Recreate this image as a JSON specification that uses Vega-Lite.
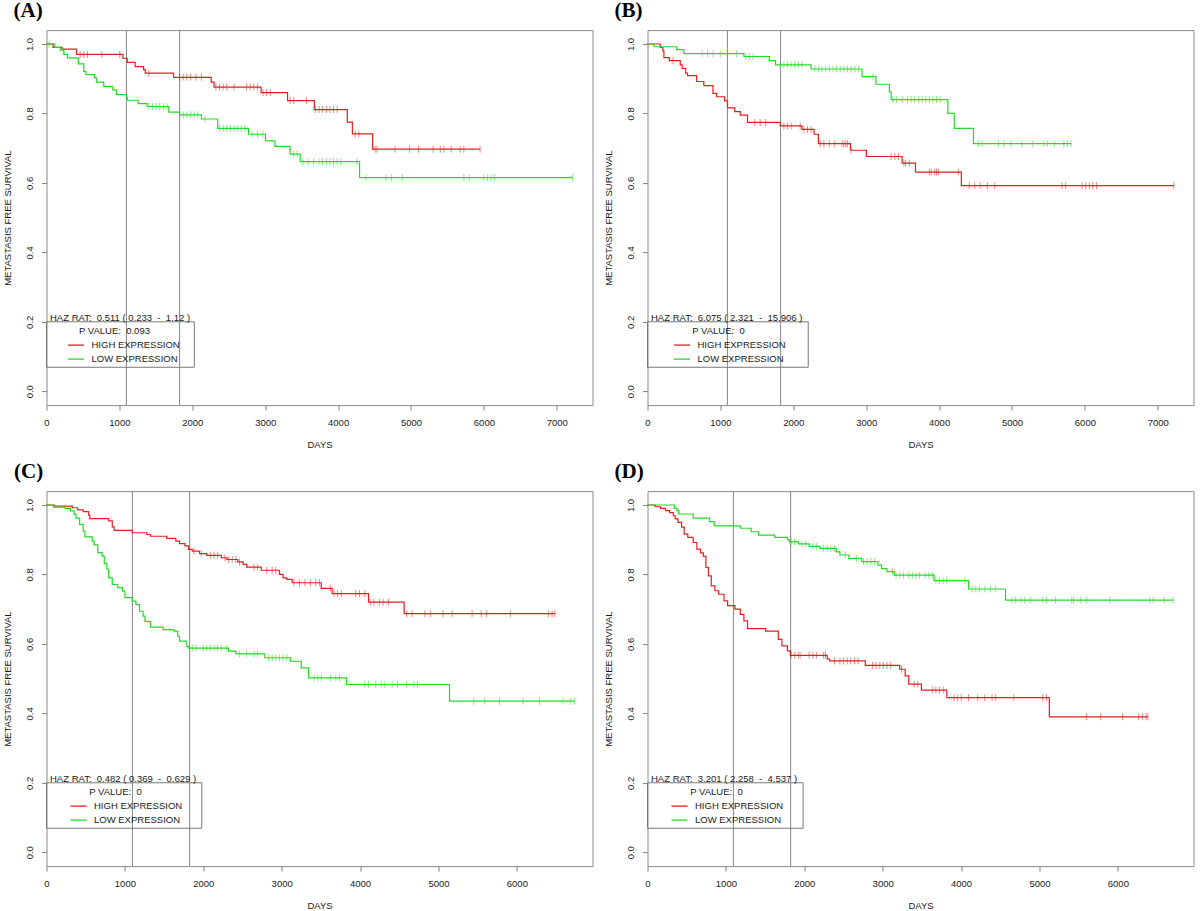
{
"$schema": "https://vega.github.io/schema/vega-lite/v6.json",
"background": "white",
"autosize": {"type": "none"},
"padding": {"left": 46.5, "top": 30.1, "right": 1153.5, "bottom": 880.9},
"columns": 2,
"bounds": "flush",
"spacing": {"row": 86, "column": 55},
"resolve": {"scale": {"x": "independent", "y": "independent", "color": "independent"}, "axis": {"x": "independent", "y": "independent"}, "legend": {"color": "independent"}},
"config": {
 "font": "Liberation Sans",
 "view": {"stroke": "#8a8a8a", "strokeWidth": 1},
 "axis": {"grid": false, "domain": false, "tickColor": "#808080", "tickSize": 5, "tickWidth": 1, "labelFont": "Liberation Sans", "labelFontSize": 9.5, "labelColor": "#1a1a1a", "titleFont": "Liberation Sans", "titleFontSize": 9.5, "titleFontWeight": "normal", "titleColor": "#1a1a1a", "labelFlush": false, "labelOverlap": false},
 "axisX": {"labelPadding": 7, "titlePadding": 13, "format": "d"},
 "axisY": {"labelAngle": -90, "labelAlign": "center", "labelBaseline": "middle", "labelPadding": 12, "titlePadding": 12},
 "legend": {"orient": "none", "legendX": 0, "legendY": 292.5, "padding": 3, "symbolType": "stroke", "symbolSize": 256, "symbolStrokeWidth": 1.3, "symbolOpacity": 1, "symbolOffset": 17.5, "labelOffset": 6.5, "rowPadding": -8, "titlePadding": 1, "labelFont": "Liberation Sans", "labelFontSize": 9.5, "labelColor": "#1a1a1a", "titleFont": "Liberation Sans", "titleFontSize": 9.5, "titleFontWeight": "normal", "titleColor": "#1a1a1a", "titleAnchor": "middle", "titleAlign": "center", "titleLimit": 400, "labelLimit": 300},
 "title": {"font": "Liberation Serif", "fontSize": 21, "fontWeight": "bold", "color": "black", "anchor": "start", "frame": "group", "baseline": "alphabetic"}
},
"datasets": {
 "refs": [{"t": 1096}, {"t": 1826}],
 "notes": [
  {"p": "A", "label": "HAZ RAT:\u00a0\u00a00.511 ( 0.233\u00a0\u00a0-\u00a0\u00a01.12 )"},
  {"p": "B", "label": "HAZ RAT:\u00a0\u00a06.075 ( 2.321\u00a0\u00a0-\u00a0\u00a015.906 )"},
  {"p": "C", "label": "HAZ RAT:\u00a0\u00a00.482 ( 0.369\u00a0\u00a0-\u00a0\u00a00.629 )"},
  {"p": "D", "label": "HAZ RAT:\u00a0\u00a03.201 ( 2.258\u00a0\u00a0-\u00a0\u00a04.537 )"}
 ],
 "A": [
{"g":"HIGH EXPRESSION","t":0,"s":1,"c":0},{"g":"HIGH EXPRESSION","t":89,"s":0.99,"c":0},{"g":"HIGH EXPRESSION","t":213,"s":0.985,"c":0},{"g":"HIGH EXPRESSION","t":412,"s":0.97,"c":0},{"g":"HIGH EXPRESSION","t":462,"s":0.97,"c":1},{"g":"HIGH EXPRESSION","t":511,"s":0.97,"c":1},{"g":"HIGH EXPRESSION","t":561,"s":0.97,"c":1},{"g":"HIGH EXPRESSION","t":760,"s":0.97,"c":1},{"g":"HIGH EXPRESSION","t":1005,"s":0.97,"c":1},{"g":"HIGH EXPRESSION","t":1048,"s":0.959,"c":0},{"g":"HIGH EXPRESSION","t":1107,"s":0.947,"c":0},{"g":"HIGH EXPRESSION","t":1216,"s":0.935,"c":0},{"g":"HIGH EXPRESSION","t":1331,"s":0.926,"c":0},{"g":"HIGH EXPRESSION","t":1355,"s":0.916,"c":0},{"g":"HIGH EXPRESSION","t":1404,"s":0.916,"c":1},{"g":"HIGH EXPRESSION","t":1743,"s":0.904,"c":0},{"g":"HIGH EXPRESSION","t":1827,"s":0.904,"c":1},{"g":"HIGH EXPRESSION","t":1877,"s":0.904,"c":1},{"g":"HIGH EXPRESSION","t":1926,"s":0.904,"c":1},{"g":"HIGH EXPRESSION","t":1976,"s":0.904,"c":1},{"g":"HIGH EXPRESSION","t":2051,"s":0.904,"c":1},{"g":"HIGH EXPRESSION","t":2125,"s":0.904,"c":1},{"g":"HIGH EXPRESSION","t":2259,"s":0.89,"c":0},{"g":"HIGH EXPRESSION","t":2299,"s":0.876,"c":0},{"g":"HIGH EXPRESSION","t":2324,"s":0.876,"c":1},{"g":"HIGH EXPRESSION","t":2373,"s":0.876,"c":1},{"g":"HIGH EXPRESSION","t":2423,"s":0.876,"c":1},{"g":"HIGH EXPRESSION","t":2473,"s":0.876,"c":1},{"g":"HIGH EXPRESSION","t":2572,"s":0.876,"c":1},{"g":"HIGH EXPRESSION","t":2746,"s":0.876,"c":1},{"g":"HIGH EXPRESSION","t":2795,"s":0.876,"c":1},{"g":"HIGH EXPRESSION","t":2845,"s":0.876,"c":1},{"g":"HIGH EXPRESSION","t":2895,"s":0.876,"c":1},{"g":"HIGH EXPRESSION","t":2944,"s":0.86,"c":0},{"g":"HIGH EXPRESSION","t":2969,"s":0.86,"c":1},{"g":"HIGH EXPRESSION","t":3019,"s":0.86,"c":1},{"g":"HIGH EXPRESSION","t":3069,"s":0.86,"c":1},{"g":"HIGH EXPRESSION","t":3307,"s":0.837,"c":0},{"g":"HIGH EXPRESSION","t":3342,"s":0.837,"c":1},{"g":"HIGH EXPRESSION","t":3391,"s":0.837,"c":1},{"g":"HIGH EXPRESSION","t":3565,"s":0.837,"c":1},{"g":"HIGH EXPRESSION","t":3674,"s":0.811,"c":0},{"g":"HIGH EXPRESSION","t":3689,"s":0.811,"c":1},{"g":"HIGH EXPRESSION","t":3739,"s":0.811,"c":1},{"g":"HIGH EXPRESSION","t":3788,"s":0.811,"c":1},{"g":"HIGH EXPRESSION","t":3838,"s":0.811,"c":1},{"g":"HIGH EXPRESSION","t":3888,"s":0.811,"c":1},{"g":"HIGH EXPRESSION","t":3937,"s":0.811,"c":1},{"g":"HIGH EXPRESSION","t":3987,"s":0.811,"c":1},{"g":"HIGH EXPRESSION","t":4126,"s":0.775,"c":0},{"g":"HIGH EXPRESSION","t":4196,"s":0.741,"c":0},{"g":"HIGH EXPRESSION","t":4235,"s":0.741,"c":1},{"g":"HIGH EXPRESSION","t":4285,"s":0.741,"c":1},{"g":"HIGH EXPRESSION","t":4474,"s":0.697,"c":0},{"g":"HIGH EXPRESSION","t":4508,"s":0.697,"c":1},{"g":"HIGH EXPRESSION","t":4533,"s":0.697,"c":1},{"g":"HIGH EXPRESSION","t":4781,"s":0.697,"c":1},{"g":"HIGH EXPRESSION","t":4980,"s":0.697,"c":1},{"g":"HIGH EXPRESSION","t":5104,"s":0.697,"c":1},{"g":"HIGH EXPRESSION","t":5303,"s":0.697,"c":1},{"g":"HIGH EXPRESSION","t":5402,"s":0.697,"c":1},{"g":"HIGH EXPRESSION","t":5452,"s":0.697,"c":1},{"g":"HIGH EXPRESSION","t":5551,"s":0.697,"c":1},{"g":"HIGH EXPRESSION","t":5675,"s":0.697,"c":1},{"g":"HIGH EXPRESSION","t":5725,"s":0.697,"c":1},{"g":"HIGH EXPRESSION","t":5948,"s":0.697,"c":1},
{"g":"LOW EXPRESSION","t":0,"s":1,"c":0},{"g":"LOW EXPRESSION","t":35,"s":1,"c":1},{"g":"LOW EXPRESSION","t":114,"s":0.99,"c":0},{"g":"LOW EXPRESSION","t":189,"s":0.982,"c":0},{"g":"LOW EXPRESSION","t":238,"s":0.97,"c":0},{"g":"LOW EXPRESSION","t":288,"s":0.96,"c":0},{"g":"LOW EXPRESSION","t":437,"s":0.943,"c":0},{"g":"LOW EXPRESSION","t":511,"s":0.921,"c":0},{"g":"LOW EXPRESSION","t":540,"s":0.912,"c":0},{"g":"LOW EXPRESSION","t":660,"s":0.902,"c":0},{"g":"LOW EXPRESSION","t":685,"s":0.89,"c":0},{"g":"LOW EXPRESSION","t":785,"s":0.878,"c":0},{"g":"LOW EXPRESSION","t":909,"s":0.868,"c":0},{"g":"LOW EXPRESSION","t":958,"s":0.854,"c":0},{"g":"LOW EXPRESSION","t":1097,"s":0.846,"c":0},{"g":"LOW EXPRESSION","t":1107,"s":0.838,"c":0},{"g":"LOW EXPRESSION","t":1256,"s":0.828,"c":0},{"g":"LOW EXPRESSION","t":1380,"s":0.82,"c":0},{"g":"LOW EXPRESSION","t":1405,"s":0.82,"c":1},{"g":"LOW EXPRESSION","t":1455,"s":0.82,"c":1},{"g":"LOW EXPRESSION","t":1504,"s":0.82,"c":1},{"g":"LOW EXPRESSION","t":1554,"s":0.82,"c":1},{"g":"LOW EXPRESSION","t":1604,"s":0.82,"c":1},{"g":"LOW EXPRESSION","t":1653,"s":0.82,"c":1},{"g":"LOW EXPRESSION","t":1678,"s":0.804,"c":0},{"g":"LOW EXPRESSION","t":1827,"s":0.796,"c":0},{"g":"LOW EXPRESSION","t":1877,"s":0.796,"c":1},{"g":"LOW EXPRESSION","t":1926,"s":0.796,"c":1},{"g":"LOW EXPRESSION","t":1976,"s":0.796,"c":1},{"g":"LOW EXPRESSION","t":2026,"s":0.796,"c":1},{"g":"LOW EXPRESSION","t":2075,"s":0.796,"c":1},{"g":"LOW EXPRESSION","t":2125,"s":0.784,"c":0},{"g":"LOW EXPRESSION","t":2175,"s":0.784,"c":1},{"g":"LOW EXPRESSION","t":2349,"s":0.757,"c":0},{"g":"LOW EXPRESSION","t":2373,"s":0.757,"c":1},{"g":"LOW EXPRESSION","t":2423,"s":0.757,"c":1},{"g":"LOW EXPRESSION","t":2473,"s":0.757,"c":1},{"g":"LOW EXPRESSION","t":2522,"s":0.757,"c":1},{"g":"LOW EXPRESSION","t":2572,"s":0.757,"c":1},{"g":"LOW EXPRESSION","t":2622,"s":0.757,"c":1},{"g":"LOW EXPRESSION","t":2671,"s":0.757,"c":1},{"g":"LOW EXPRESSION","t":2721,"s":0.757,"c":1},{"g":"LOW EXPRESSION","t":2771,"s":0.74,"c":0},{"g":"LOW EXPRESSION","t":2820,"s":0.74,"c":1},{"g":"LOW EXPRESSION","t":2895,"s":0.74,"c":1},{"g":"LOW EXPRESSION","t":2969,"s":0.74,"c":1},{"g":"LOW EXPRESSION","t":3004,"s":0.721,"c":0},{"g":"LOW EXPRESSION","t":3133,"s":0.705,"c":0},{"g":"LOW EXPRESSION","t":3342,"s":0.683,"c":0},{"g":"LOW EXPRESSION","t":3391,"s":0.683,"c":1},{"g":"LOW EXPRESSION","t":3441,"s":0.683,"c":1},{"g":"LOW EXPRESSION","t":3480,"s":0.661,"c":0},{"g":"LOW EXPRESSION","t":3515,"s":0.661,"c":1},{"g":"LOW EXPRESSION","t":3590,"s":0.661,"c":1},{"g":"LOW EXPRESSION","t":3664,"s":0.661,"c":1},{"g":"LOW EXPRESSION","t":3739,"s":0.661,"c":1},{"g":"LOW EXPRESSION","t":3788,"s":0.661,"c":1},{"g":"LOW EXPRESSION","t":3838,"s":0.661,"c":1},{"g":"LOW EXPRESSION","t":3888,"s":0.661,"c":1},{"g":"LOW EXPRESSION","t":3937,"s":0.661,"c":1},{"g":"LOW EXPRESSION","t":3987,"s":0.661,"c":1},{"g":"LOW EXPRESSION","t":4037,"s":0.661,"c":1},{"g":"LOW EXPRESSION","t":4260,"s":0.661,"c":1},{"g":"LOW EXPRESSION","t":4295,"s":0.615,"c":0},{"g":"LOW EXPRESSION","t":4384,"s":0.615,"c":1},{"g":"LOW EXPRESSION","t":4657,"s":0.615,"c":1},{"g":"LOW EXPRESSION","t":4732,"s":0.615,"c":1},{"g":"LOW EXPRESSION","t":4881,"s":0.615,"c":1},{"g":"LOW EXPRESSION","t":5725,"s":0.615,"c":1},{"g":"LOW EXPRESSION","t":5799,"s":0.615,"c":1},{"g":"LOW EXPRESSION","t":5998,"s":0.615,"c":1},{"g":"LOW EXPRESSION","t":6048,"s":0.615,"c":1},{"g":"LOW EXPRESSION","t":6097,"s":0.615,"c":1},{"g":"LOW EXPRESSION","t":6147,"s":0.615,"c":1},{"g":"LOW EXPRESSION","t":7215,"s":0.615,"c":1}
 ],
 "B": [
{"g":"HIGH EXPRESSION","t":0,"s":1,"c":0},{"g":"HIGH EXPRESSION","t":175,"s":0.99,"c":0},{"g":"HIGH EXPRESSION","t":210,"s":0.98,"c":0},{"g":"HIGH EXPRESSION","t":225,"s":0.961,"c":0},{"g":"HIGH EXPRESSION","t":300,"s":0.952,"c":0},{"g":"HIGH EXPRESSION","t":350,"s":0.952,"c":1},{"g":"HIGH EXPRESSION","t":449,"s":0.94,"c":0},{"g":"HIGH EXPRESSION","t":475,"s":0.93,"c":0},{"g":"HIGH EXPRESSION","t":524,"s":0.916,"c":0},{"g":"HIGH EXPRESSION","t":549,"s":0.909,"c":0},{"g":"HIGH EXPRESSION","t":674,"s":0.892,"c":0},{"g":"HIGH EXPRESSION","t":773,"s":0.88,"c":0},{"g":"HIGH EXPRESSION","t":898,"s":0.858,"c":0},{"g":"HIGH EXPRESSION","t":948,"s":0.848,"c":0},{"g":"HIGH EXPRESSION","t":1058,"s":0.836,"c":0},{"g":"HIGH EXPRESSION","t":1098,"s":0.816,"c":0},{"g":"HIGH EXPRESSION","t":1197,"s":0.805,"c":0},{"g":"HIGH EXPRESSION","t":1272,"s":0.795,"c":0},{"g":"HIGH EXPRESSION","t":1372,"s":0.774,"c":0},{"g":"HIGH EXPRESSION","t":1472,"s":0.774,"c":1},{"g":"HIGH EXPRESSION","t":1546,"s":0.774,"c":1},{"g":"HIGH EXPRESSION","t":1621,"s":0.774,"c":1},{"g":"HIGH EXPRESSION","t":1821,"s":0.764,"c":0},{"g":"HIGH EXPRESSION","t":1871,"s":0.764,"c":1},{"g":"HIGH EXPRESSION","t":1920,"s":0.764,"c":1},{"g":"HIGH EXPRESSION","t":1970,"s":0.764,"c":1},{"g":"HIGH EXPRESSION","t":2095,"s":0.764,"c":1},{"g":"HIGH EXPRESSION","t":2120,"s":0.754,"c":0},{"g":"HIGH EXPRESSION","t":2145,"s":0.754,"c":1},{"g":"HIGH EXPRESSION","t":2195,"s":0.754,"c":1},{"g":"HIGH EXPRESSION","t":2245,"s":0.754,"c":1},{"g":"HIGH EXPRESSION","t":2285,"s":0.74,"c":0},{"g":"HIGH EXPRESSION","t":2345,"s":0.713,"c":0},{"g":"HIGH EXPRESSION","t":2369,"s":0.713,"c":1},{"g":"HIGH EXPRESSION","t":2419,"s":0.713,"c":1},{"g":"HIGH EXPRESSION","t":2494,"s":0.713,"c":1},{"g":"HIGH EXPRESSION","t":2569,"s":0.713,"c":1},{"g":"HIGH EXPRESSION","t":2669,"s":0.713,"c":1},{"g":"HIGH EXPRESSION","t":2694,"s":0.713,"c":1},{"g":"HIGH EXPRESSION","t":2719,"s":0.713,"c":1},{"g":"HIGH EXPRESSION","t":2744,"s":0.713,"c":1},{"g":"HIGH EXPRESSION","t":2784,"s":0.694,"c":0},{"g":"HIGH EXPRESSION","t":2793,"s":0.694,"c":1},{"g":"HIGH EXPRESSION","t":3003,"s":0.676,"c":0},{"g":"HIGH EXPRESSION","t":3342,"s":0.676,"c":1},{"g":"HIGH EXPRESSION","t":3392,"s":0.676,"c":1},{"g":"HIGH EXPRESSION","t":3442,"s":0.676,"c":1},{"g":"HIGH EXPRESSION","t":3492,"s":0.657,"c":0},{"g":"HIGH EXPRESSION","t":3517,"s":0.657,"c":1},{"g":"HIGH EXPRESSION","t":3541,"s":0.657,"c":1},{"g":"HIGH EXPRESSION","t":3591,"s":0.657,"c":1},{"g":"HIGH EXPRESSION","t":3676,"s":0.631,"c":0},{"g":"HIGH EXPRESSION","t":3866,"s":0.631,"c":1},{"g":"HIGH EXPRESSION","t":3891,"s":0.631,"c":1},{"g":"HIGH EXPRESSION","t":3940,"s":0.631,"c":1},{"g":"HIGH EXPRESSION","t":3965,"s":0.631,"c":1},{"g":"HIGH EXPRESSION","t":3990,"s":0.631,"c":1},{"g":"HIGH EXPRESSION","t":4264,"s":0.631,"c":1},{"g":"HIGH EXPRESSION","t":4305,"s":0.592,"c":0},{"g":"HIGH EXPRESSION","t":4414,"s":0.592,"c":1},{"g":"HIGH EXPRESSION","t":4489,"s":0.592,"c":1},{"g":"HIGH EXPRESSION","t":4564,"s":0.592,"c":1},{"g":"HIGH EXPRESSION","t":4663,"s":0.592,"c":1},{"g":"HIGH EXPRESSION","t":4763,"s":0.592,"c":1},{"g":"HIGH EXPRESSION","t":5686,"s":0.592,"c":1},{"g":"HIGH EXPRESSION","t":5736,"s":0.592,"c":1},{"g":"HIGH EXPRESSION","t":5961,"s":0.592,"c":1},{"g":"HIGH EXPRESSION","t":6011,"s":0.592,"c":1},{"g":"HIGH EXPRESSION","t":6061,"s":0.592,"c":1},{"g":"HIGH EXPRESSION","t":6110,"s":0.592,"c":1},{"g":"HIGH EXPRESSION","t":6160,"s":0.592,"c":1},{"g":"HIGH EXPRESSION","t":7220,"s":0.592,"c":1},
{"g":"LOW EXPRESSION","t":0,"s":1,"c":0},{"g":"LOW EXPRESSION","t":90,"s":0.992,"c":0},{"g":"LOW EXPRESSION","t":400,"s":0.984,"c":0},{"g":"LOW EXPRESSION","t":499,"s":0.972,"c":0},{"g":"LOW EXPRESSION","t":748,"s":0.972,"c":1},{"g":"LOW EXPRESSION","t":823,"s":0.972,"c":1},{"g":"LOW EXPRESSION","t":898,"s":0.972,"c":1},{"g":"LOW EXPRESSION","t":998,"s":0.972,"c":1},{"g":"LOW EXPRESSION","t":1098,"s":0.972,"c":1},{"g":"LOW EXPRESSION","t":1222,"s":0.972,"c":1},{"g":"LOW EXPRESSION","t":1322,"s":0.964,"c":0},{"g":"LOW EXPRESSION","t":1347,"s":0.964,"c":1},{"g":"LOW EXPRESSION","t":1397,"s":0.964,"c":1},{"g":"LOW EXPRESSION","t":1447,"s":0.964,"c":1},{"g":"LOW EXPRESSION","t":1671,"s":0.952,"c":0},{"g":"LOW EXPRESSION","t":1756,"s":0.94,"c":0},{"g":"LOW EXPRESSION","t":1821,"s":0.94,"c":1},{"g":"LOW EXPRESSION","t":1871,"s":0.94,"c":1},{"g":"LOW EXPRESSION","t":1920,"s":0.94,"c":1},{"g":"LOW EXPRESSION","t":1970,"s":0.94,"c":1},{"g":"LOW EXPRESSION","t":2020,"s":0.94,"c":1},{"g":"LOW EXPRESSION","t":2070,"s":0.94,"c":1},{"g":"LOW EXPRESSION","t":2120,"s":0.94,"c":1},{"g":"LOW EXPRESSION","t":2245,"s":0.928,"c":0},{"g":"LOW EXPRESSION","t":2295,"s":0.928,"c":1},{"g":"LOW EXPRESSION","t":2344,"s":0.928,"c":1},{"g":"LOW EXPRESSION","t":2394,"s":0.928,"c":1},{"g":"LOW EXPRESSION","t":2444,"s":0.928,"c":1},{"g":"LOW EXPRESSION","t":2494,"s":0.928,"c":1},{"g":"LOW EXPRESSION","t":2544,"s":0.928,"c":1},{"g":"LOW EXPRESSION","t":2594,"s":0.928,"c":1},{"g":"LOW EXPRESSION","t":2644,"s":0.928,"c":1},{"g":"LOW EXPRESSION","t":2694,"s":0.928,"c":1},{"g":"LOW EXPRESSION","t":2744,"s":0.928,"c":1},{"g":"LOW EXPRESSION","t":2793,"s":0.928,"c":1},{"g":"LOW EXPRESSION","t":2843,"s":0.928,"c":1},{"g":"LOW EXPRESSION","t":2893,"s":0.928,"c":1},{"g":"LOW EXPRESSION","t":2943,"s":0.906,"c":0},{"g":"LOW EXPRESSION","t":3093,"s":0.906,"c":1},{"g":"LOW EXPRESSION","t":3133,"s":0.884,"c":0},{"g":"LOW EXPRESSION","t":3318,"s":0.862,"c":0},{"g":"LOW EXPRESSION","t":3343,"s":0.84,"c":0},{"g":"LOW EXPRESSION","t":3367,"s":0.84,"c":1},{"g":"LOW EXPRESSION","t":3417,"s":0.84,"c":1},{"g":"LOW EXPRESSION","t":3492,"s":0.84,"c":1},{"g":"LOW EXPRESSION","t":3566,"s":0.84,"c":1},{"g":"LOW EXPRESSION","t":3616,"s":0.84,"c":1},{"g":"LOW EXPRESSION","t":3666,"s":0.84,"c":1},{"g":"LOW EXPRESSION","t":3716,"s":0.84,"c":1},{"g":"LOW EXPRESSION","t":3766,"s":0.84,"c":1},{"g":"LOW EXPRESSION","t":3816,"s":0.84,"c":1},{"g":"LOW EXPRESSION","t":3866,"s":0.84,"c":1},{"g":"LOW EXPRESSION","t":3915,"s":0.84,"c":1},{"g":"LOW EXPRESSION","t":3965,"s":0.84,"c":1},{"g":"LOW EXPRESSION","t":4015,"s":0.84,"c":1},{"g":"LOW EXPRESSION","t":4120,"s":0.8,"c":0},{"g":"LOW EXPRESSION","t":4208,"s":0.757,"c":0},{"g":"LOW EXPRESSION","t":4472,"s":0.713,"c":0},{"g":"LOW EXPRESSION","t":4539,"s":0.713,"c":1},{"g":"LOW EXPRESSION","t":4589,"s":0.713,"c":1},{"g":"LOW EXPRESSION","t":4813,"s":0.713,"c":1},{"g":"LOW EXPRESSION","t":4888,"s":0.713,"c":1},{"g":"LOW EXPRESSION","t":4988,"s":0.713,"c":1},{"g":"LOW EXPRESSION","t":5137,"s":0.713,"c":1},{"g":"LOW EXPRESSION","t":5287,"s":0.713,"c":1},{"g":"LOW EXPRESSION","t":5437,"s":0.713,"c":1},{"g":"LOW EXPRESSION","t":5486,"s":0.713,"c":1},{"g":"LOW EXPRESSION","t":5586,"s":0.713,"c":1},{"g":"LOW EXPRESSION","t":5711,"s":0.713,"c":1},{"g":"LOW EXPRESSION","t":5761,"s":0.713,"c":1},{"g":"LOW EXPRESSION","t":5810,"s":0.713,"c":1}
 ],
 "C": [
{"g":"HIGH EXPRESSION","t":0,"s":1,"c":0},{"g":"HIGH EXPRESSION","t":97,"s":0.997,"c":0},{"g":"HIGH EXPRESSION","t":329,"s":0.992,"c":0},{"g":"HIGH EXPRESSION","t":399,"s":0.986,"c":0},{"g":"HIGH EXPRESSION","t":468,"s":0.981,"c":0},{"g":"HIGH EXPRESSION","t":538,"s":0.971,"c":0},{"g":"HIGH EXPRESSION","t":552,"s":0.961,"c":0},{"g":"HIGH EXPRESSION","t":793,"s":0.954,"c":0},{"g":"HIGH EXPRESSION","t":839,"s":0.937,"c":0},{"g":"HIGH EXPRESSION","t":862,"s":0.927,"c":0},{"g":"HIGH EXPRESSION","t":1094,"s":0.92,"c":0},{"g":"HIGH EXPRESSION","t":1280,"s":0.915,"c":0},{"g":"HIGH EXPRESSION","t":1326,"s":0.91,"c":0},{"g":"HIGH EXPRESSION","t":1535,"s":0.904,"c":0},{"g":"HIGH EXPRESSION","t":1650,"s":0.896,"c":0},{"g":"HIGH EXPRESSION","t":1697,"s":0.889,"c":0},{"g":"HIGH EXPRESSION","t":1766,"s":0.882,"c":0},{"g":"HIGH EXPRESSION","t":1813,"s":0.872,"c":0},{"g":"HIGH EXPRESSION","t":1859,"s":0.867,"c":0},{"g":"HIGH EXPRESSION","t":1882,"s":0.867,"c":1},{"g":"HIGH EXPRESSION","t":1952,"s":0.86,"c":0},{"g":"HIGH EXPRESSION","t":1975,"s":0.86,"c":1},{"g":"HIGH EXPRESSION","t":2044,"s":0.855,"c":0},{"g":"HIGH EXPRESSION","t":2091,"s":0.855,"c":1},{"g":"HIGH EXPRESSION","t":2137,"s":0.855,"c":1},{"g":"HIGH EXPRESSION","t":2184,"s":0.855,"c":1},{"g":"HIGH EXPRESSION","t":2230,"s":0.848,"c":0},{"g":"HIGH EXPRESSION","t":2276,"s":0.848,"c":1},{"g":"HIGH EXPRESSION","t":2299,"s":0.843,"c":0},{"g":"HIGH EXPRESSION","t":2323,"s":0.843,"c":1},{"g":"HIGH EXPRESSION","t":2369,"s":0.843,"c":1},{"g":"HIGH EXPRESSION","t":2415,"s":0.843,"c":1},{"g":"HIGH EXPRESSION","t":2439,"s":0.836,"c":0},{"g":"HIGH EXPRESSION","t":2462,"s":0.836,"c":1},{"g":"HIGH EXPRESSION","t":2508,"s":0.829,"c":0},{"g":"HIGH EXPRESSION","t":2554,"s":0.821,"c":0},{"g":"HIGH EXPRESSION","t":2647,"s":0.821,"c":1},{"g":"HIGH EXPRESSION","t":2693,"s":0.821,"c":1},{"g":"HIGH EXPRESSION","t":2740,"s":0.812,"c":0},{"g":"HIGH EXPRESSION","t":2809,"s":0.812,"c":1},{"g":"HIGH EXPRESSION","t":2879,"s":0.812,"c":1},{"g":"HIGH EXPRESSION","t":2925,"s":0.812,"c":1},{"g":"HIGH EXPRESSION","t":2972,"s":0.8,"c":0},{"g":"HIGH EXPRESSION","t":3018,"s":0.79,"c":0},{"g":"HIGH EXPRESSION","t":3064,"s":0.786,"c":0},{"g":"HIGH EXPRESSION","t":3134,"s":0.776,"c":0},{"g":"HIGH EXPRESSION","t":3157,"s":0.776,"c":1},{"g":"HIGH EXPRESSION","t":3227,"s":0.776,"c":1},{"g":"HIGH EXPRESSION","t":3296,"s":0.776,"c":1},{"g":"HIGH EXPRESSION","t":3366,"s":0.776,"c":1},{"g":"HIGH EXPRESSION","t":3435,"s":0.776,"c":1},{"g":"HIGH EXPRESSION","t":3482,"s":0.776,"c":1},{"g":"HIGH EXPRESSION","t":3505,"s":0.76,"c":0},{"g":"HIGH EXPRESSION","t":3621,"s":0.76,"c":1},{"g":"HIGH EXPRESSION","t":3644,"s":0.745,"c":0},{"g":"HIGH EXPRESSION","t":3667,"s":0.745,"c":1},{"g":"HIGH EXPRESSION","t":3713,"s":0.745,"c":1},{"g":"HIGH EXPRESSION","t":3760,"s":0.745,"c":1},{"g":"HIGH EXPRESSION","t":3945,"s":0.745,"c":1},{"g":"HIGH EXPRESSION","t":3992,"s":0.745,"c":1},{"g":"HIGH EXPRESSION","t":4061,"s":0.745,"c":1},{"g":"HIGH EXPRESSION","t":4108,"s":0.72,"c":0},{"g":"HIGH EXPRESSION","t":4131,"s":0.72,"c":1},{"g":"HIGH EXPRESSION","t":4177,"s":0.72,"c":1},{"g":"HIGH EXPRESSION","t":4247,"s":0.72,"c":1},{"g":"HIGH EXPRESSION","t":4293,"s":0.72,"c":1},{"g":"HIGH EXPRESSION","t":4362,"s":0.72,"c":1},{"g":"HIGH EXPRESSION","t":4562,"s":0.687,"c":0},{"g":"HIGH EXPRESSION","t":4594,"s":0.687,"c":1},{"g":"HIGH EXPRESSION","t":4664,"s":0.687,"c":1},{"g":"HIGH EXPRESSION","t":4826,"s":0.687,"c":1},{"g":"HIGH EXPRESSION","t":4896,"s":0.687,"c":1},{"g":"HIGH EXPRESSION","t":5058,"s":0.687,"c":1},{"g":"HIGH EXPRESSION","t":5174,"s":0.687,"c":1},{"g":"HIGH EXPRESSION","t":5429,"s":0.687,"c":1},{"g":"HIGH EXPRESSION","t":5545,"s":0.687,"c":1},{"g":"HIGH EXPRESSION","t":5614,"s":0.687,"c":1},{"g":"HIGH EXPRESSION","t":5916,"s":0.687,"c":1},{"g":"HIGH EXPRESSION","t":6403,"s":0.687,"c":1},{"g":"HIGH EXPRESSION","t":6449,"s":0.687,"c":1},{"g":"HIGH EXPRESSION","t":6486,"s":0.687,"c":1},
{"g":"LOW EXPRESSION","t":0,"s":1,"c":0},{"g":"LOW EXPRESSION","t":88,"s":0.994,"c":0},{"g":"LOW EXPRESSION","t":236,"s":0.99,"c":0},{"g":"LOW EXPRESSION","t":306,"s":0.983,"c":0},{"g":"LOW EXPRESSION","t":352,"s":0.973,"c":0},{"g":"LOW EXPRESSION","t":376,"s":0.962,"c":0},{"g":"LOW EXPRESSION","t":422,"s":0.944,"c":0},{"g":"LOW EXPRESSION","t":468,"s":0.925,"c":0},{"g":"LOW EXPRESSION","t":491,"s":0.908,"c":0},{"g":"LOW EXPRESSION","t":584,"s":0.896,"c":0},{"g":"LOW EXPRESSION","t":607,"s":0.885,"c":0},{"g":"LOW EXPRESSION","t":654,"s":0.863,"c":0},{"g":"LOW EXPRESSION","t":709,"s":0.853,"c":0},{"g":"LOW EXPRESSION","t":737,"s":0.831,"c":0},{"g":"LOW EXPRESSION","t":770,"s":0.815,"c":0},{"g":"LOW EXPRESSION","t":793,"s":0.79,"c":0},{"g":"LOW EXPRESSION","t":839,"s":0.771,"c":0},{"g":"LOW EXPRESSION","t":909,"s":0.762,"c":0},{"g":"LOW EXPRESSION","t":969,"s":0.752,"c":0},{"g":"LOW EXPRESSION","t":1001,"s":0.733,"c":0},{"g":"LOW EXPRESSION","t":1094,"s":0.723,"c":0},{"g":"LOW EXPRESSION","t":1141,"s":0.713,"c":0},{"g":"LOW EXPRESSION","t":1187,"s":0.694,"c":0},{"g":"LOW EXPRESSION","t":1233,"s":0.68,"c":0},{"g":"LOW EXPRESSION","t":1256,"s":0.665,"c":0},{"g":"LOW EXPRESSION","t":1326,"s":0.648,"c":0},{"g":"LOW EXPRESSION","t":1488,"s":0.641,"c":0},{"g":"LOW EXPRESSION","t":1627,"s":0.637,"c":0},{"g":"LOW EXPRESSION","t":1674,"s":0.622,"c":0},{"g":"LOW EXPRESSION","t":1697,"s":0.608,"c":0},{"g":"LOW EXPRESSION","t":1790,"s":0.593,"c":0},{"g":"LOW EXPRESSION","t":1813,"s":0.588,"c":0},{"g":"LOW EXPRESSION","t":1859,"s":0.588,"c":1},{"g":"LOW EXPRESSION","t":1906,"s":0.588,"c":1},{"g":"LOW EXPRESSION","t":1998,"s":0.588,"c":1},{"g":"LOW EXPRESSION","t":2044,"s":0.588,"c":1},{"g":"LOW EXPRESSION","t":2091,"s":0.588,"c":1},{"g":"LOW EXPRESSION","t":2137,"s":0.588,"c":1},{"g":"LOW EXPRESSION","t":2184,"s":0.588,"c":1},{"g":"LOW EXPRESSION","t":2230,"s":0.588,"c":1},{"g":"LOW EXPRESSION","t":2299,"s":0.588,"c":1},{"g":"LOW EXPRESSION","t":2323,"s":0.579,"c":0},{"g":"LOW EXPRESSION","t":2415,"s":0.571,"c":0},{"g":"LOW EXPRESSION","t":2462,"s":0.571,"c":1},{"g":"LOW EXPRESSION","t":2554,"s":0.571,"c":1},{"g":"LOW EXPRESSION","t":2647,"s":0.571,"c":1},{"g":"LOW EXPRESSION","t":2693,"s":0.571,"c":1},{"g":"LOW EXPRESSION","t":2786,"s":0.56,"c":0},{"g":"LOW EXPRESSION","t":2832,"s":0.56,"c":1},{"g":"LOW EXPRESSION","t":2879,"s":0.56,"c":1},{"g":"LOW EXPRESSION","t":2925,"s":0.56,"c":1},{"g":"LOW EXPRESSION","t":2972,"s":0.56,"c":1},{"g":"LOW EXPRESSION","t":3018,"s":0.56,"c":1},{"g":"LOW EXPRESSION","t":3064,"s":0.56,"c":1},{"g":"LOW EXPRESSION","t":3111,"s":0.55,"c":0},{"g":"LOW EXPRESSION","t":3250,"s":0.531,"c":0},{"g":"LOW EXPRESSION","t":3343,"s":0.502,"c":0},{"g":"LOW EXPRESSION","t":3412,"s":0.502,"c":1},{"g":"LOW EXPRESSION","t":3459,"s":0.502,"c":1},{"g":"LOW EXPRESSION","t":3505,"s":0.502,"c":1},{"g":"LOW EXPRESSION","t":3621,"s":0.502,"c":1},{"g":"LOW EXPRESSION","t":3690,"s":0.502,"c":1},{"g":"LOW EXPRESSION","t":3737,"s":0.502,"c":1},{"g":"LOW EXPRESSION","t":3829,"s":0.483,"c":0},{"g":"LOW EXPRESSION","t":4061,"s":0.483,"c":1},{"g":"LOW EXPRESSION","t":4108,"s":0.483,"c":1},{"g":"LOW EXPRESSION","t":4200,"s":0.483,"c":1},{"g":"LOW EXPRESSION","t":4270,"s":0.483,"c":1},{"g":"LOW EXPRESSION","t":4316,"s":0.483,"c":1},{"g":"LOW EXPRESSION","t":4409,"s":0.483,"c":1},{"g":"LOW EXPRESSION","t":4478,"s":0.483,"c":1},{"g":"LOW EXPRESSION","t":4594,"s":0.483,"c":1},{"g":"LOW EXPRESSION","t":4687,"s":0.483,"c":1},{"g":"LOW EXPRESSION","t":4733,"s":0.483,"c":1},{"g":"LOW EXPRESSION","t":5141,"s":0.435,"c":0},{"g":"LOW EXPRESSION","t":5452,"s":0.435,"c":1},{"g":"LOW EXPRESSION","t":5591,"s":0.435,"c":1},{"g":"LOW EXPRESSION","t":5777,"s":0.435,"c":1},{"g":"LOW EXPRESSION","t":6078,"s":0.435,"c":1},{"g":"LOW EXPRESSION","t":6287,"s":0.435,"c":1},{"g":"LOW EXPRESSION","t":6588,"s":0.435,"c":1},{"g":"LOW EXPRESSION","t":6681,"s":0.435,"c":1},{"g":"LOW EXPRESSION","t":6736,"s":0.435,"c":1}
 ],
 "D": [
{"g":"HIGH EXPRESSION","t":0,"s":1,"c":0},{"g":"HIGH EXPRESSION","t":98,"s":0.995,"c":0},{"g":"HIGH EXPRESSION","t":167,"s":0.99,"c":0},{"g":"HIGH EXPRESSION","t":230,"s":0.984,"c":0},{"g":"HIGH EXPRESSION","t":283,"s":0.978,"c":0},{"g":"HIGH EXPRESSION","t":329,"s":0.969,"c":0},{"g":"HIGH EXPRESSION","t":352,"s":0.96,"c":0},{"g":"HIGH EXPRESSION","t":389,"s":0.95,"c":0},{"g":"HIGH EXPRESSION","t":435,"s":0.936,"c":0},{"g":"HIGH EXPRESSION","t":468,"s":0.916,"c":0},{"g":"HIGH EXPRESSION","t":514,"s":0.907,"c":0},{"g":"HIGH EXPRESSION","t":583,"s":0.892,"c":0},{"g":"HIGH EXPRESSION","t":630,"s":0.873,"c":0},{"g":"HIGH EXPRESSION","t":676,"s":0.862,"c":0},{"g":"HIGH EXPRESSION","t":712,"s":0.852,"c":0},{"g":"HIGH EXPRESSION","t":745,"s":0.82,"c":0},{"g":"HIGH EXPRESSION","t":777,"s":0.796,"c":0},{"g":"HIGH EXPRESSION","t":814,"s":0.767,"c":0},{"g":"HIGH EXPRESSION","t":860,"s":0.753,"c":0},{"g":"HIGH EXPRESSION","t":906,"s":0.743,"c":0},{"g":"HIGH EXPRESSION","t":976,"s":0.724,"c":0},{"g":"HIGH EXPRESSION","t":1022,"s":0.71,"c":0},{"g":"HIGH EXPRESSION","t":1115,"s":0.7,"c":0},{"g":"HIGH EXPRESSION","t":1184,"s":0.685,"c":0},{"g":"HIGH EXPRESSION","t":1230,"s":0.666,"c":0},{"g":"HIGH EXPRESSION","t":1276,"s":0.644,"c":0},{"g":"HIGH EXPRESSION","t":1507,"s":0.637,"c":0},{"g":"HIGH EXPRESSION","t":1669,"s":0.613,"c":0},{"g":"HIGH EXPRESSION","t":1715,"s":0.594,"c":0},{"g":"HIGH EXPRESSION","t":1785,"s":0.58,"c":0},{"g":"HIGH EXPRESSION","t":1822,"s":0.567,"c":0},{"g":"HIGH EXPRESSION","t":1831,"s":0.567,"c":1},{"g":"HIGH EXPRESSION","t":1877,"s":0.567,"c":1},{"g":"HIGH EXPRESSION","t":1923,"s":0.567,"c":1},{"g":"HIGH EXPRESSION","t":1946,"s":0.567,"c":1},{"g":"HIGH EXPRESSION","t":2062,"s":0.567,"c":1},{"g":"HIGH EXPRESSION","t":2108,"s":0.567,"c":1},{"g":"HIGH EXPRESSION","t":2154,"s":0.567,"c":1},{"g":"HIGH EXPRESSION","t":2247,"s":0.567,"c":1},{"g":"HIGH EXPRESSION","t":2270,"s":0.567,"c":1},{"g":"HIGH EXPRESSION","t":2293,"s":0.556,"c":0},{"g":"HIGH EXPRESSION","t":2325,"s":0.551,"c":0},{"g":"HIGH EXPRESSION","t":2385,"s":0.551,"c":1},{"g":"HIGH EXPRESSION","t":2455,"s":0.551,"c":1},{"g":"HIGH EXPRESSION","t":2501,"s":0.551,"c":1},{"g":"HIGH EXPRESSION","t":2547,"s":0.551,"c":1},{"g":"HIGH EXPRESSION","t":2593,"s":0.551,"c":1},{"g":"HIGH EXPRESSION","t":2640,"s":0.551,"c":1},{"g":"HIGH EXPRESSION","t":2686,"s":0.551,"c":1},{"g":"HIGH EXPRESSION","t":2778,"s":0.538,"c":0},{"g":"HIGH EXPRESSION","t":2871,"s":0.538,"c":1},{"g":"HIGH EXPRESSION","t":2917,"s":0.538,"c":1},{"g":"HIGH EXPRESSION","t":2963,"s":0.538,"c":1},{"g":"HIGH EXPRESSION","t":3009,"s":0.538,"c":1},{"g":"HIGH EXPRESSION","t":3055,"s":0.538,"c":1},{"g":"HIGH EXPRESSION","t":3102,"s":0.538,"c":1},{"g":"HIGH EXPRESSION","t":3217,"s":0.527,"c":0},{"g":"HIGH EXPRESSION","t":3240,"s":0.527,"c":1},{"g":"HIGH EXPRESSION","t":3287,"s":0.508,"c":0},{"g":"HIGH EXPRESSION","t":3333,"s":0.484,"c":0},{"g":"HIGH EXPRESSION","t":3402,"s":0.484,"c":1},{"g":"HIGH EXPRESSION","t":3448,"s":0.484,"c":1},{"g":"HIGH EXPRESSION","t":3494,"s":0.467,"c":0},{"g":"HIGH EXPRESSION","t":3633,"s":0.467,"c":1},{"g":"HIGH EXPRESSION","t":3679,"s":0.467,"c":1},{"g":"HIGH EXPRESSION","t":3725,"s":0.467,"c":1},{"g":"HIGH EXPRESSION","t":3772,"s":0.467,"c":1},{"g":"HIGH EXPRESSION","t":3818,"s":0.445,"c":0},{"g":"HIGH EXPRESSION","t":3910,"s":0.445,"c":1},{"g":"HIGH EXPRESSION","t":3956,"s":0.445,"c":1},{"g":"HIGH EXPRESSION","t":4002,"s":0.445,"c":1},{"g":"HIGH EXPRESSION","t":4095,"s":0.445,"c":1},{"g":"HIGH EXPRESSION","t":4211,"s":0.445,"c":1},{"g":"HIGH EXPRESSION","t":4303,"s":0.445,"c":1},{"g":"HIGH EXPRESSION","t":4396,"s":0.445,"c":1},{"g":"HIGH EXPRESSION","t":4442,"s":0.445,"c":1},{"g":"HIGH EXPRESSION","t":4673,"s":0.445,"c":1},{"g":"HIGH EXPRESSION","t":5042,"s":0.445,"c":1},{"g":"HIGH EXPRESSION","t":5089,"s":0.445,"c":1},{"g":"HIGH EXPRESSION","t":5126,"s":0.39,"c":0},{"g":"HIGH EXPRESSION","t":5598,"s":0.39,"c":1},{"g":"HIGH EXPRESSION","t":5782,"s":0.39,"c":1},{"g":"HIGH EXPRESSION","t":6060,"s":0.39,"c":1},{"g":"HIGH EXPRESSION","t":6267,"s":0.39,"c":1},{"g":"HIGH EXPRESSION","t":6314,"s":0.39,"c":1},{"g":"HIGH EXPRESSION","t":6360,"s":0.39,"c":1},{"g":"HIGH EXPRESSION","t":6383,"s":0.39,"c":1},
{"g":"LOW EXPRESSION","t":0,"s":1,"c":0},{"g":"LOW EXPRESSION","t":343,"s":0.99,"c":0},{"g":"LOW EXPRESSION","t":376,"s":0.984,"c":0},{"g":"LOW EXPRESSION","t":398,"s":0.974,"c":0},{"g":"LOW EXPRESSION","t":583,"s":0.962,"c":0},{"g":"LOW EXPRESSION","t":791,"s":0.952,"c":0},{"g":"LOW EXPRESSION","t":851,"s":0.94,"c":0},{"g":"LOW EXPRESSION","t":1184,"s":0.933,"c":0},{"g":"LOW EXPRESSION","t":1322,"s":0.923,"c":0},{"g":"LOW EXPRESSION","t":1415,"s":0.913,"c":0},{"g":"LOW EXPRESSION","t":1623,"s":0.907,"c":0},{"g":"LOW EXPRESSION","t":1785,"s":0.9,"c":0},{"g":"LOW EXPRESSION","t":1808,"s":0.894,"c":0},{"g":"LOW EXPRESSION","t":1831,"s":0.894,"c":1},{"g":"LOW EXPRESSION","t":1877,"s":0.894,"c":1},{"g":"LOW EXPRESSION","t":1923,"s":0.888,"c":0},{"g":"LOW EXPRESSION","t":1970,"s":0.888,"c":1},{"g":"LOW EXPRESSION","t":2016,"s":0.888,"c":1},{"g":"LOW EXPRESSION","t":2062,"s":0.881,"c":0},{"g":"LOW EXPRESSION","t":2108,"s":0.881,"c":1},{"g":"LOW EXPRESSION","t":2154,"s":0.881,"c":1},{"g":"LOW EXPRESSION","t":2201,"s":0.875,"c":0},{"g":"LOW EXPRESSION","t":2247,"s":0.875,"c":1},{"g":"LOW EXPRESSION","t":2293,"s":0.875,"c":1},{"g":"LOW EXPRESSION","t":2339,"s":0.875,"c":1},{"g":"LOW EXPRESSION","t":2385,"s":0.875,"c":1},{"g":"LOW EXPRESSION","t":2409,"s":0.865,"c":0},{"g":"LOW EXPRESSION","t":2455,"s":0.856,"c":0},{"g":"LOW EXPRESSION","t":2524,"s":0.856,"c":1},{"g":"LOW EXPRESSION","t":2570,"s":0.846,"c":0},{"g":"LOW EXPRESSION","t":2663,"s":0.846,"c":1},{"g":"LOW EXPRESSION","t":2732,"s":0.837,"c":0},{"g":"LOW EXPRESSION","t":2755,"s":0.837,"c":1},{"g":"LOW EXPRESSION","t":2801,"s":0.837,"c":1},{"g":"LOW EXPRESSION","t":2848,"s":0.837,"c":1},{"g":"LOW EXPRESSION","t":2894,"s":0.837,"c":1},{"g":"LOW EXPRESSION","t":2940,"s":0.827,"c":0},{"g":"LOW EXPRESSION","t":2986,"s":0.817,"c":0},{"g":"LOW EXPRESSION","t":3055,"s":0.808,"c":0},{"g":"LOW EXPRESSION","t":3125,"s":0.808,"c":1},{"g":"LOW EXPRESSION","t":3148,"s":0.798,"c":0},{"g":"LOW EXPRESSION","t":3171,"s":0.798,"c":1},{"g":"LOW EXPRESSION","t":3217,"s":0.798,"c":1},{"g":"LOW EXPRESSION","t":3263,"s":0.798,"c":1},{"g":"LOW EXPRESSION","t":3333,"s":0.798,"c":1},{"g":"LOW EXPRESSION","t":3379,"s":0.798,"c":1},{"g":"LOW EXPRESSION","t":3425,"s":0.798,"c":1},{"g":"LOW EXPRESSION","t":3471,"s":0.798,"c":1},{"g":"LOW EXPRESSION","t":3541,"s":0.798,"c":1},{"g":"LOW EXPRESSION","t":3587,"s":0.798,"c":1},{"g":"LOW EXPRESSION","t":3633,"s":0.798,"c":1},{"g":"LOW EXPRESSION","t":3656,"s":0.782,"c":0},{"g":"LOW EXPRESSION","t":3679,"s":0.782,"c":1},{"g":"LOW EXPRESSION","t":3725,"s":0.782,"c":1},{"g":"LOW EXPRESSION","t":3772,"s":0.782,"c":1},{"g":"LOW EXPRESSION","t":3818,"s":0.782,"c":1},{"g":"LOW EXPRESSION","t":4049,"s":0.782,"c":1},{"g":"LOW EXPRESSION","t":4095,"s":0.758,"c":0},{"g":"LOW EXPRESSION","t":4141,"s":0.758,"c":1},{"g":"LOW EXPRESSION","t":4188,"s":0.758,"c":1},{"g":"LOW EXPRESSION","t":4234,"s":0.758,"c":1},{"g":"LOW EXPRESSION","t":4303,"s":0.758,"c":1},{"g":"LOW EXPRESSION","t":4373,"s":0.758,"c":1},{"g":"LOW EXPRESSION","t":4442,"s":0.758,"c":1},{"g":"LOW EXPRESSION","t":4567,"s":0.726,"c":0},{"g":"LOW EXPRESSION","t":4650,"s":0.726,"c":1},{"g":"LOW EXPRESSION","t":4697,"s":0.726,"c":1},{"g":"LOW EXPRESSION","t":4766,"s":0.726,"c":1},{"g":"LOW EXPRESSION","t":4812,"s":0.726,"c":1},{"g":"LOW EXPRESSION","t":4881,"s":0.726,"c":1},{"g":"LOW EXPRESSION","t":5042,"s":0.726,"c":1},{"g":"LOW EXPRESSION","t":5089,"s":0.726,"c":1},{"g":"LOW EXPRESSION","t":5204,"s":0.726,"c":1},{"g":"LOW EXPRESSION","t":5412,"s":0.726,"c":1},{"g":"LOW EXPRESSION","t":5435,"s":0.726,"c":1},{"g":"LOW EXPRESSION","t":5528,"s":0.726,"c":1},{"g":"LOW EXPRESSION","t":5598,"s":0.726,"c":1},{"g":"LOW EXPRESSION","t":5898,"s":0.726,"c":1},{"g":"LOW EXPRESSION","t":6406,"s":0.726,"c":1},{"g":"LOW EXPRESSION","t":6452,"s":0.726,"c":1},{"g":"LOW EXPRESSION","t":6591,"s":0.726,"c":1},{"g":"LOW EXPRESSION","t":6706,"s":0.726,"c":1}
 ]
},
"concat": [
 {
  "width": 546, "height": 375,
  "title": {"text": "(A)", "dx": -33, "offset": 9},
  "layer": [
   {"data": {"name": "refs"}, "mark": {"type": "rule", "color": "#858585", "strokeWidth": 1},
    "encoding": {"x": {"field": "t", "type": "quantitative", "title": "DAYS", "scale": {"domain": [0, 7490], "nice": false, "zero": false}, "axis": {"values": [0, 1000, 2000, 3000, 4000, 5000, 6000, 7000]}}}},
   {"data": {"name": "notes"}, "transform": [{"filter": "datum.p == 'A'"}], "mark": {"type": "rect", "fillOpacity": 0, "stroke": "#777777", "strokeWidth": 1},
    "encoding": {"x": {"datum": 0, "type": "quantitative"}, "x2": {"datum": 2028}, "y": {"datum": 0.2, "type": "quantitative"}, "y2": {"datum": 0.069}}},
   {"data": {"name": "A"}, "mark": {"type": "line", "interpolate": "step-after", "strokeWidth": 1.2},
    "encoding": {"x": {"field": "t", "type": "quantitative", "title": "DAYS"}, "y": {"field": "s", "type": "quantitative", "title": "METASTASIS FREE SURVIVAL", "scale": {"domain": [-0.04, 1.04], "nice": false, "zero": false}, "axis": {"values": [0, 0.2, 0.4, 0.6, 0.8, 1], "format": ".1f"}},
     "color": {"field": "g", "type": "nominal", "scale": {"domain": ["HIGH EXPRESSION", "LOW EXPRESSION"], "range": ["#e41f1f", "#26d926"]}, "legend": {"title": "P VALUE:\u00a0\u00a00.093"}}}},
   {"data": {"name": "A"}, "transform": [{"filter": "datum.c == 1"}], "mark": {"type": "tick", "orient": "vertical", "size": 7, "thickness": 1, "opacity": 0.55},
    "encoding": {"x": {"field": "t", "type": "quantitative", "title": "DAYS"}, "y": {"field": "s", "type": "quantitative", "title": "METASTASIS FREE SURVIVAL"}, "color": {"field": "g", "type": "nominal"}}},
   {"data": {"name": "notes"}, "transform": [{"filter": "datum.p == 'A'"}], "mark": {"type": "text", "align": "left", "baseline": "middle", "dx": 3.5, "dy": -3.3, "fontSize": 9.5, "font": "Liberation Sans", "color": "#1a1a1a"},
    "encoding": {"x": {"datum": 0, "type": "quantitative"}, "y": {"datum": 0.2, "type": "quantitative"}, "text": {"field": "label", "type": "nominal"}}}
  ]
 },
 {
  "width": 546, "height": 375,
  "title": {"text": "(B)", "dx": -33, "offset": 9},
  "layer": [
   {"data": {"name": "refs"}, "mark": {"type": "rule", "color": "#858585", "strokeWidth": 1},
    "encoding": {"x": {"field": "t", "type": "quantitative", "title": "DAYS", "scale": {"domain": [0, 7490], "nice": false, "zero": false}, "axis": {"values": [0, 1000, 2000, 3000, 4000, 5000, 6000, 7000]}}}},
   {"data": {"name": "notes"}, "transform": [{"filter": "datum.p == 'B'"}], "mark": {"type": "rect", "fillOpacity": 0, "stroke": "#777777", "strokeWidth": 1},
    "encoding": {"x": {"datum": 0, "type": "quantitative"}, "x2": {"datum": 2205}, "y": {"datum": 0.2, "type": "quantitative"}, "y2": {"datum": 0.069}}},
   {"data": {"name": "B"}, "mark": {"type": "line", "interpolate": "step-after", "strokeWidth": 1.2},
    "encoding": {"x": {"field": "t", "type": "quantitative", "title": "DAYS"}, "y": {"field": "s", "type": "quantitative", "title": "METASTASIS FREE SURVIVAL", "scale": {"domain": [-0.04, 1.04], "nice": false, "zero": false}, "axis": {"values": [0, 0.2, 0.4, 0.6, 0.8, 1], "format": ".1f"}},
     "color": {"field": "g", "type": "nominal", "scale": {"domain": ["HIGH EXPRESSION", "LOW EXPRESSION"], "range": ["#e41f1f", "#26d926"]}, "legend": {"title": "P VALUE:\u00a0\u00a00", "symbolOffset": 22.5}}}},
   {"data": {"name": "B"}, "transform": [{"filter": "datum.c == 1"}], "mark": {"type": "tick", "orient": "vertical", "size": 7, "thickness": 1, "opacity": 0.55},
    "encoding": {"x": {"field": "t", "type": "quantitative", "title": "DAYS"}, "y": {"field": "s", "type": "quantitative", "title": "METASTASIS FREE SURVIVAL"}, "color": {"field": "g", "type": "nominal"}}},
   {"data": {"name": "notes"}, "transform": [{"filter": "datum.p == 'B'"}], "mark": {"type": "text", "align": "left", "baseline": "middle", "dx": 3.5, "dy": -3.3, "fontSize": 9.5, "font": "Liberation Sans", "color": "#1a1a1a"},
    "encoding": {"x": {"datum": 0, "type": "quantitative"}, "y": {"datum": 0.2, "type": "quantitative"}, "text": {"field": "label", "type": "nominal"}}}
  ]
 },
 {
  "width": 546, "height": 375,
  "title": {"text": "(C)", "dx": -32.5, "offset": 8.5},
  "layer": [
   {"data": {"name": "refs"}, "mark": {"type": "rule", "color": "#858585", "strokeWidth": 1},
    "encoding": {"x": {"field": "t", "type": "quantitative", "title": "DAYS", "scale": {"domain": [0, 6965], "nice": false, "zero": false}, "axis": {"values": [0, 1000, 2000, 3000, 4000, 5000, 6000]}}}},
   {"data": {"name": "notes"}, "transform": [{"filter": "datum.p == 'C'"}], "mark": {"type": "rect", "fillOpacity": 0, "stroke": "#777777", "strokeWidth": 1},
    "encoding": {"x": {"datum": 0, "type": "quantitative"}, "x2": {"datum": 1981}, "y": {"datum": 0.2, "type": "quantitative"}, "y2": {"datum": 0.069}}},
   {"data": {"name": "C"}, "mark": {"type": "line", "interpolate": "step-after", "strokeWidth": 1.2},
    "encoding": {"x": {"field": "t", "type": "quantitative", "title": "DAYS"}, "y": {"field": "s", "type": "quantitative", "title": "METASTASIS FREE SURVIVAL", "scale": {"domain": [-0.04, 1.04], "nice": false, "zero": false}, "axis": {"values": [0, 0.2, 0.4, 0.6, 0.8, 1], "format": ".1f"}},
     "color": {"field": "g", "type": "nominal", "scale": {"domain": ["HIGH EXPRESSION", "LOW EXPRESSION"], "range": ["#e41f1f", "#26d926"]}, "legend": {"title": "P VALUE:\u00a0\u00a00", "symbolOffset": 20}}}},
   {"data": {"name": "C"}, "transform": [{"filter": "datum.c == 1"}], "mark": {"type": "tick", "orient": "vertical", "size": 7, "thickness": 1, "opacity": 0.55},
    "encoding": {"x": {"field": "t", "type": "quantitative", "title": "DAYS"}, "y": {"field": "s", "type": "quantitative", "title": "METASTASIS FREE SURVIVAL"}, "color": {"field": "g", "type": "nominal"}}},
   {"data": {"name": "notes"}, "transform": [{"filter": "datum.p == 'C'"}], "mark": {"type": "text", "align": "left", "baseline": "middle", "dx": 3.5, "dy": -3.3, "fontSize": 9.5, "font": "Liberation Sans", "color": "#1a1a1a"},
    "encoding": {"x": {"datum": 0, "type": "quantitative"}, "y": {"datum": 0.2, "type": "quantitative"}, "text": {"field": "label", "type": "nominal"}}}
  ]
 },
 {
  "width": 546, "height": 375,
  "title": {"text": "(D)", "dx": -33, "offset": 8.5},
  "layer": [
   {"data": {"name": "refs"}, "mark": {"type": "rule", "color": "#858585", "strokeWidth": 1},
    "encoding": {"x": {"field": "t", "type": "quantitative", "title": "DAYS", "scale": {"domain": [0, 6965], "nice": false, "zero": false}, "axis": {"values": [0, 1000, 2000, 3000, 4000, 5000, 6000]}}}},
   {"data": {"name": "notes"}, "transform": [{"filter": "datum.p == 'D'"}], "mark": {"type": "rect", "fillOpacity": 0, "stroke": "#777777", "strokeWidth": 1},
    "encoding": {"x": {"datum": 0, "type": "quantitative"}, "x2": {"datum": 1985}, "y": {"datum": 0.2, "type": "quantitative"}, "y2": {"datum": 0.069}}},
   {"data": {"name": "D"}, "mark": {"type": "line", "interpolate": "step-after", "strokeWidth": 1.2},
    "encoding": {"x": {"field": "t", "type": "quantitative", "title": "DAYS"}, "y": {"field": "s", "type": "quantitative", "title": "METASTASIS FREE SURVIVAL", "scale": {"domain": [-0.04, 1.04], "nice": false, "zero": false}, "axis": {"values": [0, 0.2, 0.4, 0.6, 0.8, 1], "format": ".1f"}},
     "color": {"field": "g", "type": "nominal", "scale": {"domain": ["HIGH EXPRESSION", "LOW EXPRESSION"], "range": ["#e41f1f", "#26d926"]}, "legend": {"title": "P VALUE:\u00a0\u00a00", "symbolOffset": 20}}}},
   {"data": {"name": "D"}, "transform": [{"filter": "datum.c == 1"}], "mark": {"type": "tick", "orient": "vertical", "size": 7, "thickness": 1, "opacity": 0.55},
    "encoding": {"x": {"field": "t", "type": "quantitative", "title": "DAYS"}, "y": {"field": "s", "type": "quantitative", "title": "METASTASIS FREE SURVIVAL"}, "color": {"field": "g", "type": "nominal"}}},
   {"data": {"name": "notes"}, "transform": [{"filter": "datum.p == 'D'"}], "mark": {"type": "text", "align": "left", "baseline": "middle", "dx": 3.5, "dy": -3.3, "fontSize": 9.5, "font": "Liberation Sans", "color": "#1a1a1a"},
    "encoding": {"x": {"datum": 0, "type": "quantitative"}, "y": {"datum": 0.2, "type": "quantitative"}, "text": {"field": "label", "type": "nominal"}}}
  ]
 }
]
}
